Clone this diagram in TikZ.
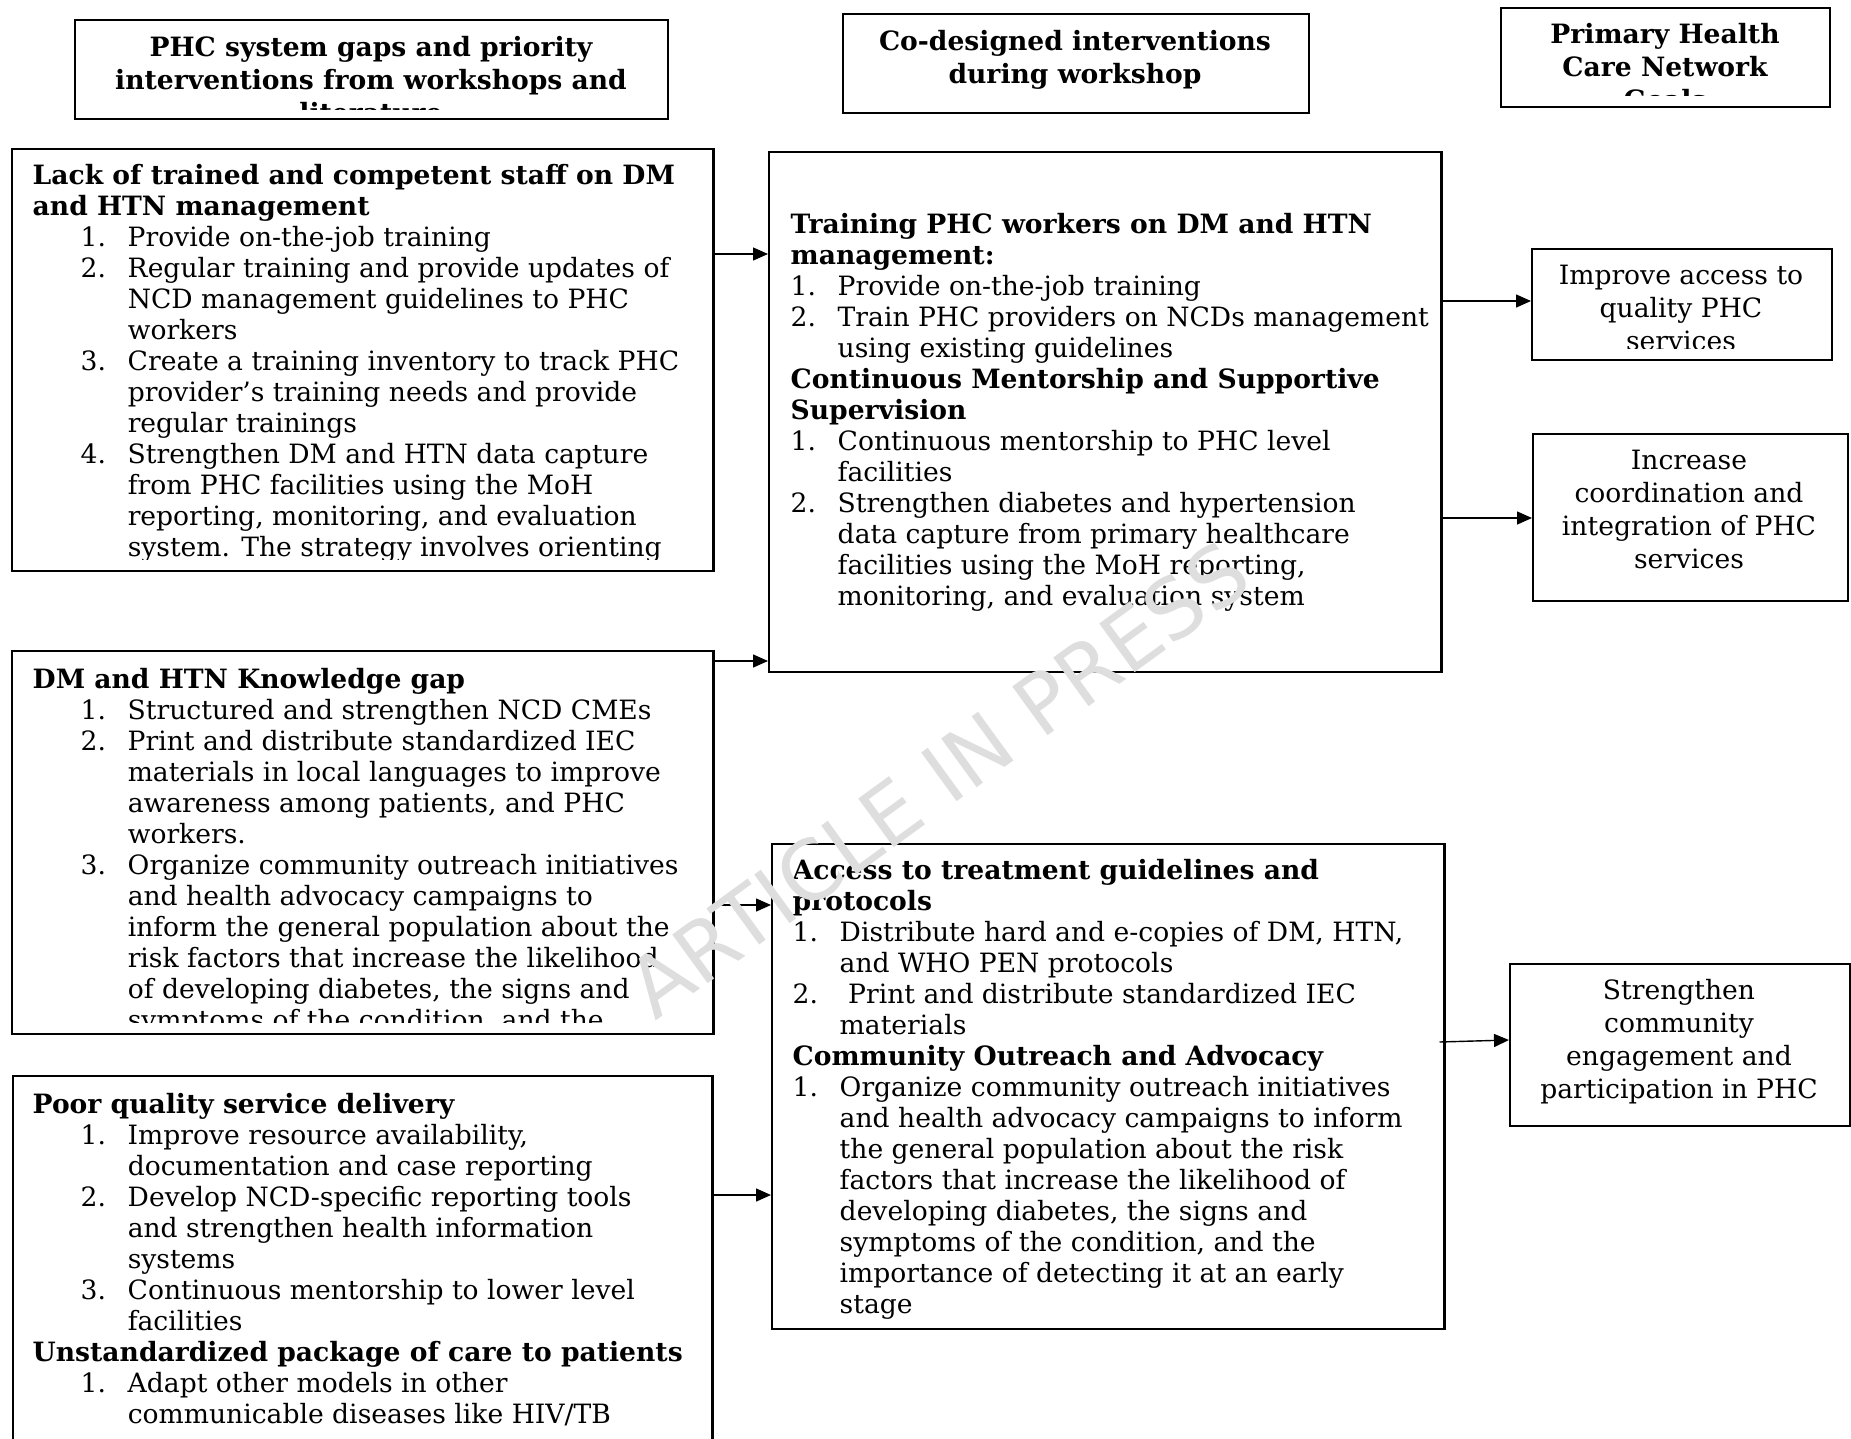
\documentclass[tikz,border=0pt]{standalone}
\usepackage{fontspec}
\setmainfont{DejaVu Serif}
\newfontfamily\wmfont{DejaVu Sans}
\usetikzlibrary{arrows.meta}
% number column of the lists
\newcommand{\nr}[1]{\makebox[0.47cm][l]{#1}}
\newcommand{\cnt}{\hspace*{0.47cm}}
\newcommand{\lnr}[1]{\hspace*{0.48cm}\nr{#1}}
\newcommand{\lcnt}{\hspace*{0.95cm}}
\tikzset{
  frame/.style = {rectangle, draw, line width=0.6pt, inner sep=0, anchor=north west},
  body/.style  = {inner sep=0, anchor=north west, align=left, font=\fontsize{7.56}{8.82}\selectfont},
  head/.style  = {inner sep=0, anchor=north, align=center, font=\fontsize{7.56}{9.39}\selectfont\bfseries},
  goal/.style  = {inner sep=0, anchor=north, align=center, font=\fontsize{7.56}{9.39}\selectfont},
  link/.style  = {line width=0.4pt, -{Triangle[length=0.15cm, width=0.13cm]}},
  wmark/.style = {rotate=36, text=black!13, font=\wmfont\fontsize{23.5}{24}\selectfont}
}

\begin{document}
\begin{tikzpicture}[x=0.01cm, y=-0.01cm]
  \useasboundingbox (0,0) rectangle (1851,1439);

  % column headers
  \node[frame, minimum width=5.93cm, minimum height=0.99cm] (h1) at (74,19) {};
  \node[frame, minimum width=4.66cm, minimum height=0.99cm] (h2) at (842,13) {};
  \node[frame, minimum width=3.29cm, minimum height=0.99cm] (h3) at (1500,7) {};
  \begin{scope}
    \clip (h1.north west) rectangle ([yshift=0.11cm]h1.south east);
    \node[head] (h1t) at (371,33) {\strut PHC system gaps and priority\\interventions from workshops and\\literature};
  \end{scope}
  \node[head] (h2t) at (1075,27) {\strut Co-designed interventions\\during workshop};
  \begin{scope}
    \clip (h3.north west) rectangle ([yshift=0.13cm]h3.south east);
    \node[head] (h3t) at (1665,20) {\strut Primary Health\\Care Network\\Goals};
  \end{scope}

  % gaps
  \node[frame, minimum width=7.01cm, minimum height=4.22cm] (gap1) at (11,148) {};
  \node[frame, minimum width=7.01cm, minimum height=3.83cm] (gap2) at (11,650) {};
  \node[frame, minimum width=6.99cm, minimum height=4.00cm] (gap3) at (12,1075) {};
  \begin{scope}
    \clip (gap1.north west) rectangle ([yshift=0.13cm]gap1.south east);
    \node[body] (gap1t) at (32,162) {\strut{\bfseries Lack of trained and competent staff on DM}\\
      {\bfseries and HTN management}\\
      \lnr{1.}Provide on-the-job training\\
      \lnr{2.}Regular training and provide updates of\\
      \lcnt NCD management guidelines to PHC\\
      \lcnt workers\\
      \lnr{3.}Create a training inventory to track PHC\\
      \lcnt provider’s training needs and provide\\
      \lcnt regular trainings\\
      \lnr{4.}Strengthen DM and HTN data capture\\
      \lcnt from PHC facilities using the MoH\\
      \lcnt reporting, monitoring, and evaluation\\
      \lcnt system. The strategy involves orienting};
  \end{scope}
  \begin{scope}
    \clip (gap2.north west) rectangle ([yshift=0.13cm]gap2.south east);
    \node[body] (gap2t) at (32,666) {\strut{\bfseries DM and HTN Knowledge gap}\\
      \lnr{1.}Structured and strengthen NCD CMEs\\
      \lnr{2.}Print and distribute standardized IEC\\
      \lcnt materials in local languages to improve\\
      \lcnt awareness among patients, and PHC\\
      \lcnt workers.\\
      \lnr{3.}Organize community outreach initiatives\\
      \lcnt and health advocacy campaigns to\\
      \lcnt inform the general population about the\\
      \lcnt risk factors that increase the likelihood\\
      \lcnt of developing diabetes, the signs and\\
      \lcnt symptoms of the condition, and the};
  \end{scope}
  \node[body] (gap3t) at (32,1091) {\strut{\bfseries Poor quality service delivery}\\
    \lnr{1.}Improve resource availability,\\
    \lcnt documentation and case reporting\\
    \lnr{2.}Develop NCD-specific reporting tools\\
    \lcnt and strengthen health information\\
    \lcnt systems\\
    \lnr{3.}Continuous mentorship to lower level\\
    \lcnt facilities\\
    {\bfseries Unstandardized package of care to patients}\\
    \lnr{1.}Adapt other models in other\\
    \lcnt communicable diseases like HIV/TB};

  % interventions
  \node[frame, minimum width=6.72cm, minimum height=5.20cm] (int1) at (768,151) {};
  \node[frame, minimum width=6.72cm, minimum height=4.85cm] (int2) at (771,843) {};
  \node[body] (int1t) at (790,211) {\strut{\bfseries Training PHC workers on DM and HTN}\\
    {\bfseries management:}\\
    \nr{1.}Provide on-the-job training\\
    \nr{2.}Train PHC providers on NCDs management\\
    \cnt using existing guidelines\\
    {\bfseries Continuous Mentorship and Supportive}\\
    {\bfseries Supervision}\\
    \nr{1.}Continuous mentorship to PHC level\\
    \cnt facilities\\
    \nr{2.}Strengthen diabetes and hypertension\\
    \cnt data capture from primary healthcare\\
    \cnt facilities using the MoH reporting,\\
    \cnt monitoring, and evaluation system};
  \node[body] (int2t) at (792,857) {\strut{\bfseries Access to treatment guidelines and}\\
    {\bfseries protocols}\\
    \nr{1.}Distribute hard and e-copies of DM, HTN,\\
    \cnt and WHO PEN protocols\\
    \nr{2.}\ Print and distribute standardized IEC\\
    \cnt materials\\
    {\bfseries Community Outreach and Advocacy}\\
    \nr{1.}Organize community outreach initiatives\\
    \cnt and health advocacy campaigns to inform\\
    \cnt the general population about the risk\\
    \cnt factors that increase the likelihood of\\
    \cnt developing diabetes, the signs and\\
    \cnt symptoms of the condition, and the\\
    \cnt importance of detecting it at an early\\
    \cnt stage};

  % goals
  \node[frame, minimum width=3.00cm, minimum height=1.11cm] (g1) at (1531,248) {};
  \node[frame, minimum width=3.15cm, minimum height=1.67cm] (g2) at (1532,433) {};
  \node[frame, minimum width=3.40cm, minimum height=1.62cm] (g3) at (1509,963) {};
  \begin{scope}
    \clip (g1.north west) rectangle ([yshift=0.13cm]g1.south east);
    \node[goal] (g1t) at (1681,261) {\strut Improve access to\\quality PHC\\services};
  \end{scope}
  \node[goal] (g2t) at (1689,446) {\strut Increase\\coordination and\\integration of PHC\\services};
  \node[goal] (g3t) at (1679,976) {\strut Strengthen\\community\\engagement and\\participation in PHC};

  % arrows
  \draw[link] (gap1.east |- 0,254) -- (int1.west |- 0,254);
  \draw[link] (gap2.east |- 0,661) -- (int1.west |- 0,661);
  \draw[link] (gap2.east |- 0,905) -- (int2.west |- 0,905);
  \draw[link] (gap3.east |- 0,1195) -- (int2.west |- 0,1195);
  \draw[link] (int1.east |- 0,301) -- (g1.west |- 0,301);
  \draw[link] (int1.east |- 0,518) -- (g2.west |- 0,518);
  \draw[link] ([xshift=-0.06cm]int2.east |- 0,1042) -- (g3.west |- 0,1040);

  \node[wmark] (wm) at (938,779) {ARTICLE IN PRESS};
\end{tikzpicture}
\end{document}
